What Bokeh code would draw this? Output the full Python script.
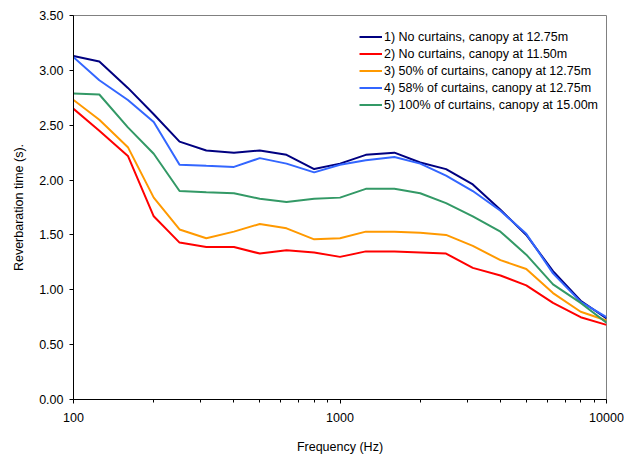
from bokeh.plotting import figure
from bokeh.models import FixedTicker, PrintfTickFormatter, Legend, LegendItem
from bokeh.embed import file_html
from bokeh.resources import INLINE

freqs = [100, 125, 160, 200, 250, 315, 400, 500, 630, 800, 1000, 1250, 1600,
         2000, 2500, 3150, 4000, 5000, 6300, 8000, 10000]

s1 = [3.13, 3.08, 2.84, 2.60, 2.35, 2.27, 2.25, 2.27, 2.23, 2.10, 2.15, 2.23, 2.25,
      2.16, 2.10, 1.96, 1.73, 1.50, 1.17, 0.90, 0.74]
s2 = [2.65, 2.45, 2.22, 1.67, 1.43, 1.39, 1.39, 1.33, 1.36, 1.34, 1.30, 1.35, 1.35,
      1.34, 1.33, 1.20, 1.13, 1.04, 0.88, 0.75, 0.68]
s3 = [2.73, 2.55, 2.30, 1.84, 1.55, 1.47, 1.53, 1.60, 1.56, 1.46, 1.47, 1.53, 1.53,
      1.52, 1.50, 1.40, 1.27, 1.19, 0.97, 0.80, 0.72]
s4 = [3.12, 2.91, 2.73, 2.53, 2.14, 2.13, 2.12, 2.20, 2.15, 2.07, 2.14, 2.18, 2.21,
      2.15, 2.04, 1.90, 1.72, 1.51, 1.15, 0.89, 0.75]
s5 = [2.79, 2.78, 2.48, 2.24, 1.90, 1.89, 1.88, 1.83, 1.80, 1.83, 1.84, 1.92, 1.92,
      1.88, 1.79, 1.67, 1.53, 1.32, 1.05, 0.88, 0.70]

labels = ["1) No curtains, canopy at 12.75m",
          "2) No curtains, canopy at 11.50m",
          "3) 50% of curtains, canopy at 12.75m",
          "4) 58% of curtains, canopy at 12.75m",
          "5) 100% of curtains, canopy at 15.00m"]
colors = ["#000080", "#FF0000", "#FF9900", "#3366FF", "#339966"]

x_major = [100, 1000, 10000]
x_minor = [200, 300, 400, 500, 600, 700, 800, 900,
           2000, 3000, 4000, 5000, 6000, 7000, 8000, 9000]
y_ticks = [0, 0.5, 1.0, 1.5, 2.0, 2.5, 3.0, 3.5]

FONT = "Liberation Sans"

p = figure(width=624, height=457, x_axis_type="log", x_range=(100, 10000),
           y_range=(0, 3.5), output_backend="svg", toolbar_location=None,
           min_border_left=73, min_border_right=18, min_border_top=15,
           min_border_bottom=58)

p.xgrid.visible = False
p.ygrid.visible = False
p.outline_line_color = "#808080"
p.outline_line_width = 1

items = []
for ys, lab, col in zip([s1, s2, s3, s4, s5], labels, colors):
    r = p.line(freqs, ys, line_color=col, line_width=2)
    items.append(LegendItem(label=lab, renderers=[r]))

legend = Legend(items=items, location=(286, 286))
legend.background_fill_alpha = 0
legend.border_line_color = None
legend.label_text_font = FONT
legend.label_text_font_size = "12.5px"
legend.label_text_color = "#000000"
legend.glyph_width = 23
legend.glyph_height = 17
legend.label_height = 17
legend.label_standoff = 2
legend.spacing = 0
legend.padding = 0
legend.margin = 0
p.add_layout(legend)

p.xaxis.ticker = FixedTicker(ticks=x_major, minor_ticks=x_minor)
p.xaxis.formatter = PrintfTickFormatter(format="%d")
p.yaxis.ticker = FixedTicker(ticks=y_ticks)
p.yaxis.formatter = PrintfTickFormatter(format="%.2f")

for ax in [p.xaxis[0], p.yaxis[0]]:
    ax.axis_line_color = "#000000"
    ax.major_tick_line_color = "#000000"
    ax.minor_tick_line_color = "#000000"
    ax.major_tick_in = 0
    ax.major_tick_out = 4
    ax.minor_tick_in = 0
    ax.minor_tick_out = 3
    ax.major_label_text_font = FONT
    ax.major_label_text_font_size = "12.5px"
    ax.major_label_text_color = "#000000"
    ax.axis_label_text_font = FONT
    ax.axis_label_text_font_size = "12.5px"
    ax.axis_label_text_font_style = "normal"
    ax.axis_label_text_color = "#000000"

p.yaxis.minor_tick_line_color = None
p.xaxis.axis_label = "Frequency (Hz)"
p.yaxis.axis_label = "Reverbaration time (s)."
p.xaxis.major_label_standoff = 9
p.xaxis.axis_label_standoff = 15
p.yaxis.major_label_standoff = 6
p.yaxis.axis_label_standoff = 10

open("out.html", "w").write(file_html(p, INLINE))
